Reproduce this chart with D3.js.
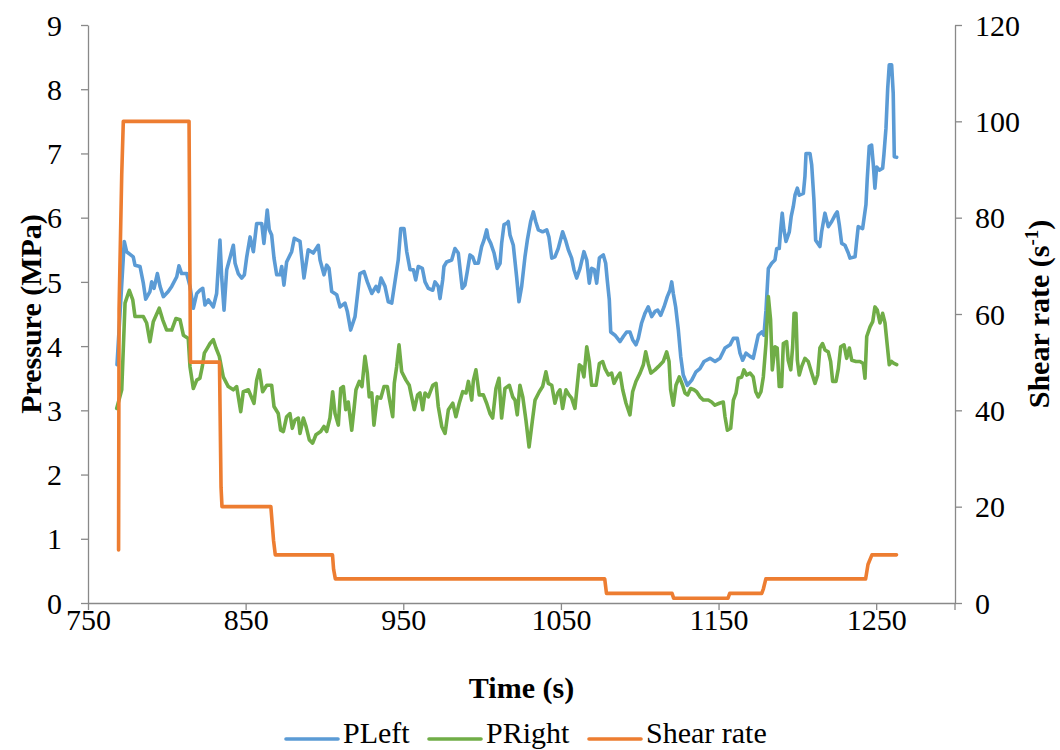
<!DOCTYPE html>
<html>
<head>
<meta charset="utf-8">
<script src="https://cdn.jsdelivr.net/npm/d3@7"></script>
<style>
  html, body { margin: 0; padding: 0; background: #fff; }
  svg { display: block; }
  text { font-family: "Liberation Serif", "Times New Roman", serif; fill: #000; }
</style>
</head>
<body>
<svg id="chart" width="1060" height="750"></svg>
<script>
// ---------------- DATA ----------------
const xTicks = [750, 850, 950, 1050, 1150, 1250];
const pressureTicks = [0, 1, 2, 3, 4, 5, 6, 7, 8, 9];
const shearTicks = [0, 20, 40, 60, 80, 100, 120];
const seriesNames = ["PLeft", "PRight", "Shear rate"];

const pLeftTime = [768.4,773.0,774.5,778.7,779.8,783.0,785.1,786.6,789.3,790.4,791.9,794.0,795.7,797.8,800.9,803.1,806.3,807.7,809.4,812.6,814.7,816.8,819.0,821.0,822.8,824.2,826.3,829.5,831.6,833.7,834.8,836.3,838.0,842.2,843.3,845.3,847.5,849.2,850.7,852.8,854.9,857.0,860.2,861.6,863.7,865.0,866.5,868.0,869.7,871.8,872.9,874.3,876.0,879.2,880.9,884.5,887.0,889.7,892.9,896.1,897.2,899.7,901.4,902.9,904.6,907.8,909.9,913.0,914.5,916.6,919.4,922.5,925.1,927.2,930.0,932.7,934.2,935.9,938.4,940.5,942.7,945.2,946.8,948.4,950.5,952.2,954.3,956.4,957.9,959.5,962.1,963.8,965.9,968.7,970.1,972.2,973.3,975.0,975.8,977.5,980.7,982.8,984.9,987.4,989.1,990.6,992.3,994.0,995.5,997.6,999.7,1001.2,1002.9,1003.9,1005.5,1007.6,1009.6,1011.4,1012.4,1013.9,1015.6,1016.6,1017.7,1019.8,1021.9,1023.4,1025.1,1027.2,1028.7,1030.8,1032.5,1034.0,1035.7,1038.4,1041.0,1042.4,1044.2,1046.2,1048.3,1051.1,1053.2,1054.7,1056.8,1058.3,1060.0,1062.1,1064.6,1066.4,1068.0,1069.5,1071.2,1072.7,1074.4,1075.2,1076.9,1078.4,1079.4,1080.7,1081.6,1084.3,1087.5,1089.6,1091.7,1093.8,1095.5,1097.6,1099.1,1101.2,1103.3,1105.4,1107.6,1109.7,1111.4,1113.3,1115.4,1117.5,1119.2,1120.3,1121.3,1122.8,1124.5,1126.0,1127.6,1130.2,1133.0,1135.7,1138.2,1140.8,1144.6,1147.8,1150.9,1154.1,1157.3,1159.4,1161.9,1163.6,1165.3,1167.4,1170.0,1172.0,1173.6,1175.2,1177.4,1178.8,1180.1,1181.6,1183.7,1185.8,1186.9,1188.5,1189.4,1190.4,1191.5,1192.8,1194.9,1196.1,1197.4,1198.5,1200.0,1201.2,1203.8,1204.8,1205.5,1208.0,1209.1,1210.5,1211.6,1214.3,1215.4,1217.5,1219.6,1221.8,1223.9,1225.3,1226.6,1228.1,1230.2,1232.3,1233.4,1236.6,1237.6,1238.6,1241.4,1243.5,1244.3,1245.6,1247.1,1248.2,1249.2,1250.3,1252.0,1254.1,1254.9,1256.2,1257.3,1258.3,1259.8,1260.8,1261.5,1263.0];
const pLeftValue = [3.71,5.63,5.47,5.39,5.26,5.24,4.98,4.73,4.85,5.00,4.90,5.13,4.93,4.77,4.85,4.93,5.08,5.25,5.13,5.13,4.93,4.59,4.82,4.87,4.90,4.64,4.72,4.61,4.82,5.65,5.08,4.56,5.19,5.57,5.29,5.13,5.06,5.11,5.39,5.70,5.47,5.91,5.91,5.60,6.12,5.81,5.73,5.37,5.11,5.11,5.24,4.95,5.31,5.47,5.68,5.63,5.06,5.50,5.45,5.57,5.34,5.11,5.26,5.21,4.85,4.80,4.61,4.67,4.54,4.25,4.46,5.13,5.16,5.00,4.82,4.93,4.85,5.06,4.93,4.69,4.67,5.08,5.34,5.83,5.83,5.47,5.19,5.19,5.03,5.24,5.21,5.00,4.90,4.87,5.00,4.93,4.74,5.03,5.24,5.31,5.34,5.52,5.45,4.90,4.95,5.16,5.42,5.39,5.29,5.29,5.55,5.65,5.81,5.68,5.60,5.45,5.21,5.29,5.60,5.89,5.91,5.94,5.73,5.57,5.08,4.69,4.93,5.39,5.65,5.94,6.09,5.94,5.81,5.78,5.81,5.70,5.37,5.39,5.52,5.78,5.63,5.50,5.37,5.19,5.06,5.21,5.47,5.34,4.98,5.21,5.19,4.98,5.37,5.39,5.42,5.29,5.03,4.72,4.22,4.17,4.07,4.15,4.22,4.22,4.10,4.02,4.12,4.36,4.51,4.61,4.46,4.54,4.56,4.48,4.61,4.77,4.87,5.00,4.82,4.61,4.25,3.84,3.55,3.39,3.47,3.60,3.65,3.76,3.81,3.76,3.81,3.97,4.02,4.12,4.12,3.89,3.78,3.89,3.84,3.81,3.99,4.17,4.22,4.17,4.56,5.21,5.29,5.34,5.52,5.52,5.81,6.07,5.81,5.63,5.78,6.02,6.17,6.35,6.46,6.35,6.38,6.64,7.00,7.00,6.82,6.28,5.65,5.55,5.78,6.07,5.86,5.94,6.04,6.09,5.89,5.60,5.57,5.45,5.37,5.39,5.63,5.86,5.83,6.20,6.59,7.11,7.13,6.82,6.46,6.79,6.74,6.77,6.98,7.39,8.01,8.38,8.38,7.94,6.95,6.94];

const pRightTime = [768.2,771.4,773.5,776.2,778.4,779.8,783.0,785.1,787.2,789.3,791.4,795.2,797.4,799.9,803.1,805.8,808.4,810.5,813.6,814.7,816.8,819.0,821.0,822.5,823.8,825.7,827.4,829.5,831.2,833.3,835.8,839.0,842.2,844.3,846.9,848.5,851.7,855.3,857.0,858.7,860.8,863.4,866.5,868.0,870.7,872.2,873.9,876.0,878.1,879.6,881.3,883.4,884.5,886.6,888.3,890.4,892.5,894.6,897.6,899.7,901.4,903.5,905.2,906.7,908.8,910.3,912.0,913.5,915.1,917.3,918.7,920.0,922.1,923.8,925.7,927.2,928.4,930.0,931.4,933.5,935.7,937.8,939.9,941.1,943.3,944.3,945.8,947.3,949.0,951.7,953.8,955.3,957.0,959.1,960.6,962.3,963.8,965.9,968.7,970.8,972.2,974.4,976.5,978.6,981.4,983.4,985.5,987.7,989.8,991.3,993.4,994.5,996.1,998.2,1000.8,1002.9,1005.0,1006.7,1008.8,1010.7,1012.4,1014.5,1017.3,1019.4,1020.9,1022.3,1024.0,1025.8,1027.8,1029.8,1031.8,1033.6,1036.3,1038.4,1040.5,1042.0,1044.2,1046.2,1048.0,1049.4,1051.1,1053.2,1055.1,1056.8,1058.9,1061.7,1063.1,1064.6,1066.4,1068.0,1069.5,1072.3,1074.4,1076.5,1078.0,1080.1,1082.2,1083.7,1085.8,1087.5,1089.2,1091.3,1093.8,1095.5,1097.6,1100.2,1102.3,1103.8,1105.4,1107.1,1109.7,1111.8,1114.9,1117.1,1118.6,1119.6,1121.3,1123.0,1125.1,1127.2,1128.7,1130.4,1132.3,1134.4,1136.1,1138.2,1140.3,1143.5,1145.6,1147.7,1150.5,1153.0,1154.1,1155.6,1157.7,1159.4,1161.1,1162.5,1164.7,1166.1,1167.9,1170.0,1172.0,1173.6,1175.2,1176.9,1178.4,1180.1,1181.6,1183.0,1184.1,1185.8,1187.2,1188.5,1190.0,1191.1,1193.2,1194.2,1195.8,1197.0,1197.9,1199.1,1200.0,1201.2,1202.7,1204.8,1206.9,1209.1,1211.2,1212.9,1214.3,1216.0,1217.5,1219.6,1221.1,1222.4,1224.5,1226.0,1227.5,1229.6,1231.3,1233.0,1234.5,1237.2,1239.7,1241.8,1242.9,1244.0,1246.1,1247.8,1249.2,1250.7,1252.4,1254.1,1255.6,1257.0,1258.3,1259.8,1261.3,1263.0];
const pRightValue = [3.03,3.32,4.67,4.87,4.72,4.46,4.46,4.46,4.36,4.07,4.38,4.59,4.41,4.25,4.25,4.43,4.41,4.17,4.12,3.68,3.34,3.47,3.50,3.68,3.89,3.97,4.04,4.10,3.97,3.84,3.52,3.37,3.32,3.37,2.98,3.29,3.32,3.11,3.47,3.63,3.29,3.39,3.39,3.06,2.95,2.69,2.67,2.90,2.95,2.72,2.85,2.88,2.64,2.88,2.75,2.54,2.49,2.62,2.67,2.75,2.67,2.88,3.29,2.95,2.77,3.34,3.37,3.01,3.13,2.69,3.01,3.32,3.45,3.37,3.84,3.58,3.21,3.27,2.77,3.21,3.19,3.37,3.37,3.19,2.90,3.42,3.68,4.02,3.60,3.47,3.39,3.21,3.01,3.24,3.27,3.01,3.27,3.21,3.39,3.42,3.06,2.75,2.64,3.01,3.11,2.90,3.11,3.29,3.27,3.45,3.16,3.47,3.63,3.24,3.24,3.11,2.95,2.88,3.34,3.50,2.88,3.34,3.39,3.21,3.16,2.93,3.39,3.21,2.85,2.43,2.82,3.16,3.29,3.37,3.60,3.42,3.39,3.11,3.27,3.32,3.03,3.32,3.24,3.19,3.03,3.71,3.68,3.52,3.99,3.76,3.39,3.39,3.73,3.76,3.65,3.55,3.58,3.42,3.52,3.58,3.32,3.11,2.93,3.29,3.45,3.58,3.71,3.91,3.73,3.58,3.63,3.68,3.76,3.91,3.76,3.32,3.08,3.39,3.52,3.39,3.27,3.24,3.34,3.32,3.29,3.21,3.16,3.16,3.13,3.08,3.11,3.13,2.90,2.69,2.72,3.16,3.27,3.50,3.52,3.63,3.55,3.58,3.52,3.29,3.21,3.29,3.52,4.04,4.77,4.41,3.63,3.99,3.97,3.37,3.37,4.04,4.07,3.78,3.63,3.99,4.51,4.51,3.78,3.55,3.68,3.81,3.76,3.58,3.42,3.55,3.97,4.04,3.94,3.91,3.76,3.45,3.45,3.65,3.99,4.02,3.81,3.97,3.78,3.76,3.76,3.73,3.50,4.15,4.30,4.38,4.61,4.56,4.36,4.51,4.36,4.02,3.71,3.76,3.73,3.71];

const shearTime = [769.4,769.7,771.4,772.4,814.1,815.0,833.4,834.4,835.0,866.0,867.7,868.8,905.1,905.8,906.9,1077.8,1078.9,1120.5,1121.5,1156.0,1157.1,1177.4,1178.5,1180.0,1243.3,1244.8,1247.3,1262.9];
const shearValue = [11,61,89,100,100,50,50,24,20,20,13,10,10,7,5,5,2,2,1,1,2,2,3,5,5,8,10,10];

// ---------------- LAYOUT ----------------
const colors = ["#5B9BD5", "#70AD47", "#ED7D31"];
const axisColor = "#898989";
const fontSize = 30;
const plot = { left: 88, right: 955, top: 25, bottom: 603 };

const svg = d3.select("#chart");

const x = d3.scaleLinear().domain([750, 1300]).range([plot.left, plot.right]);
const yP = d3.scaleLinear().domain([0, 9]).range([plot.bottom, plot.top]);
const yS = d3.scaleLinear().domain([0, 120]).range([plot.bottom, plot.top]);

function styleAxis(g) {
  g.select(".domain").attr("stroke", axisColor).attr("stroke-width", 1.3);
  g.selectAll(".tick line").attr("stroke", axisColor).attr("stroke-width", 1.3);
  g.selectAll(".tick text").attr("font-family", "Liberation Serif, Times New Roman, serif")
    .attr("font-size", fontSize).attr("fill", "#000");
}

// bottom axis
const gx = svg.append("g").attr("transform", `translate(0,${plot.bottom})`)
  .call(d3.axisBottom(x).tickValues(xTicks).tickSize(7).tickSizeOuter(0).tickFormat(d3.format("d")));
styleAxis(gx);
gx.selectAll(".tick text").attr("y", 27).attr("dy", 0);

// left axis
const gl = svg.append("g").attr("transform", `translate(${plot.left},0)`)
  .call(d3.axisLeft(yP).tickValues(pressureTicks).tickSize(7).tickSizeOuter(0).tickFormat(d3.format("d")));
styleAxis(gl);
gl.selectAll(".tick text").attr("x", -26).attr("dy", "0.34em");

// right axis
const gr = svg.append("g").attr("transform", `translate(${plot.right},0)`)
  .call(d3.axisRight(yS).tickValues(shearTicks).tickSize(7).tickSizeOuter(0).tickFormat(d3.format("d")));
styleAxis(gr);
gr.selectAll(".tick text").attr("x", 20).attr("dy", "0.34em");

svg.append("line").attr("x1", plot.right).attr("x2", plot.right)
  .attr("y1", plot.bottom).attr("y2", plot.bottom + 7)
  .attr("stroke", axisColor).attr("stroke-width", 1.3);

// ---------------- LINES ----------------
function series(times, values) { return times.map((t, i) => [t, values[i]]); }

const lineP = d3.line().x(d => x(d[0])).y(d => yP(d[1]));
const lineS = d3.line().x(d => x(d[0])).y(d => yS(d[1]));

svg.append("path").datum(series(pLeftTime, pLeftValue))
  .attr("d", lineP).attr("fill", "none").attr("stroke", colors[0])
  .attr("stroke-width", 3.6).attr("stroke-linejoin", "round").attr("stroke-linecap", "round");
svg.append("path").datum(series(pRightTime, pRightValue))
  .attr("d", lineP).attr("fill", "none").attr("stroke", colors[1])
  .attr("stroke-width", 3.6).attr("stroke-linejoin", "round").attr("stroke-linecap", "round");
svg.append("path").datum(series(shearTime, shearValue))
  .attr("d", lineS).attr("fill", "none").attr("stroke", colors[2])
  .attr("stroke-width", 3.6).attr("stroke-linejoin", "round").attr("stroke-linecap", "round");

// ---------------- TITLES ----------------
const midY = (plot.top + plot.bottom) / 2;
svg.append("text").attr("transform", `translate(30,${midY}) rotate(-90)`)
  .attr("text-anchor", "middle").attr("dy", "0.35em")
  .attr("font-size", fontSize).attr("font-weight", "bold").text("Pressure (MPa)");

const rt = svg.append("text").attr("transform", `translate(1040,${midY}) rotate(-90)`)
  .attr("text-anchor", "middle").attr("dy", "0.3em")
  .attr("font-size", fontSize).attr("font-weight", "bold");
rt.append("tspan").text("Shear rate (s");
rt.append("tspan").attr("font-size", 19).attr("dy", "-0.6em").text("-1");
rt.append("tspan").attr("dy", "0.38em").text(")");

svg.append("text").attr("x", (plot.left + plot.right) / 2).attr("y", 698)
  .attr("text-anchor", "middle").attr("font-size", fontSize).attr("font-weight", "bold")
  .text("Time (s)");

// ---------------- LEGEND ----------------
const legendX = [286, 429, 589];
const legend = svg.append("g");
seriesNames.forEach((name, i) => {
  legend.append("line").attr("x1", legendX[i]).attr("x2", legendX[i] + 52)
    .attr("y1", 739).attr("y2", 739).attr("stroke", colors[i]).attr("stroke-width", 3.6)
    .attr("stroke-linecap", "round");
  legend.append("text").attr("x", legendX[i] + 57).attr("y", 743)
    .attr("font-size", fontSize).text(name);
});
</script>
</body>
</html>
